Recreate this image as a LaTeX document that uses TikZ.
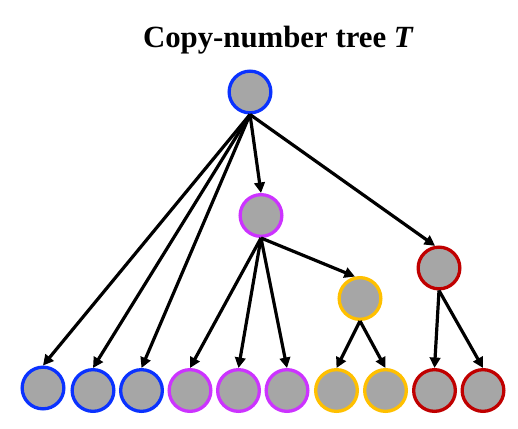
\documentclass[tikz,border=0pt]{standalone}
\usepackage{fontspec}
\setmainfont{Liberation Serif}
\usetikzlibrary{arrows.meta}
\definecolor{cblue}{RGB}{10,50,255}
\definecolor{cpurple}{RGB}{204,51,255}
\definecolor{cyellow}{RGB}{255,192,0}
\definecolor{cred}{RGB}{192,0,0}
\definecolor{cgray}{RGB}{166,166,166}
\tikzset{
  cn/.style={circle,fill=cgray,draw=#1,line width=3.3pt,inner sep=0pt,minimum size=41.7pt},
  edge/.style={line width=3.2pt,-{Triangle[length=10.5pt,width=10.5pt]}},
}
\begin{document}
\begin{tikzpicture}[x=1pt,y=-1pt]
\useasboundingbox (0,0) rectangle (518,428);
\node[font=\bfseries\fontsize{30.8}{36}\selectfont,anchor=base] (title) at (278.4,48) {Copy-number tree \textit{T}};
\node[cn=cblue] (root) at (250,92) {};
\node[cn=cpurple] (p) at (261,215.5) {};
\node[cn=cred] (r) at (439,268) {};
\node[cn=cyellow] (y) at (360,298.5) {};
\node[cn=cblue] (l1) at (43,388) {};
\node[cn=cblue] (l2) at (93,390.5) {};
\node[cn=cblue] (l3) at (141.5,390.5) {};
\node[cn=cpurple] (l4) at (190,390.5) {};
\node[cn=cpurple] (l5) at (238.5,390.5) {};
\node[cn=cpurple] (l6) at (287,390.5) {};
\node[cn=cyellow] (l7) at (336.5,390.5) {};
\node[cn=cyellow] (l8) at (385.5,390.5) {};
\node[cn=cred] (l9) at (434.5,390.5) {};
\node[cn=cred] (l10) at (483,390.5) {};
\foreach \c in {l1,l2,l3} \draw[edge] (root.south) -- (\c.north);
\draw[edge] (root.south) -- (p.north);
\draw[edge] (root.south) -- (r.100);
\foreach \c in {l4,l5,l6} \draw[edge] (p.south) -- (\c.north);
\draw[edge] (p.south) -- (y.103);
\foreach \c in {l7,l8} \draw[edge] (y.south) -- (\c.north);
\foreach \c in {l9,l10} \draw[edge] (r.south) -- (\c.north);
\end{tikzpicture}
\end{document}
